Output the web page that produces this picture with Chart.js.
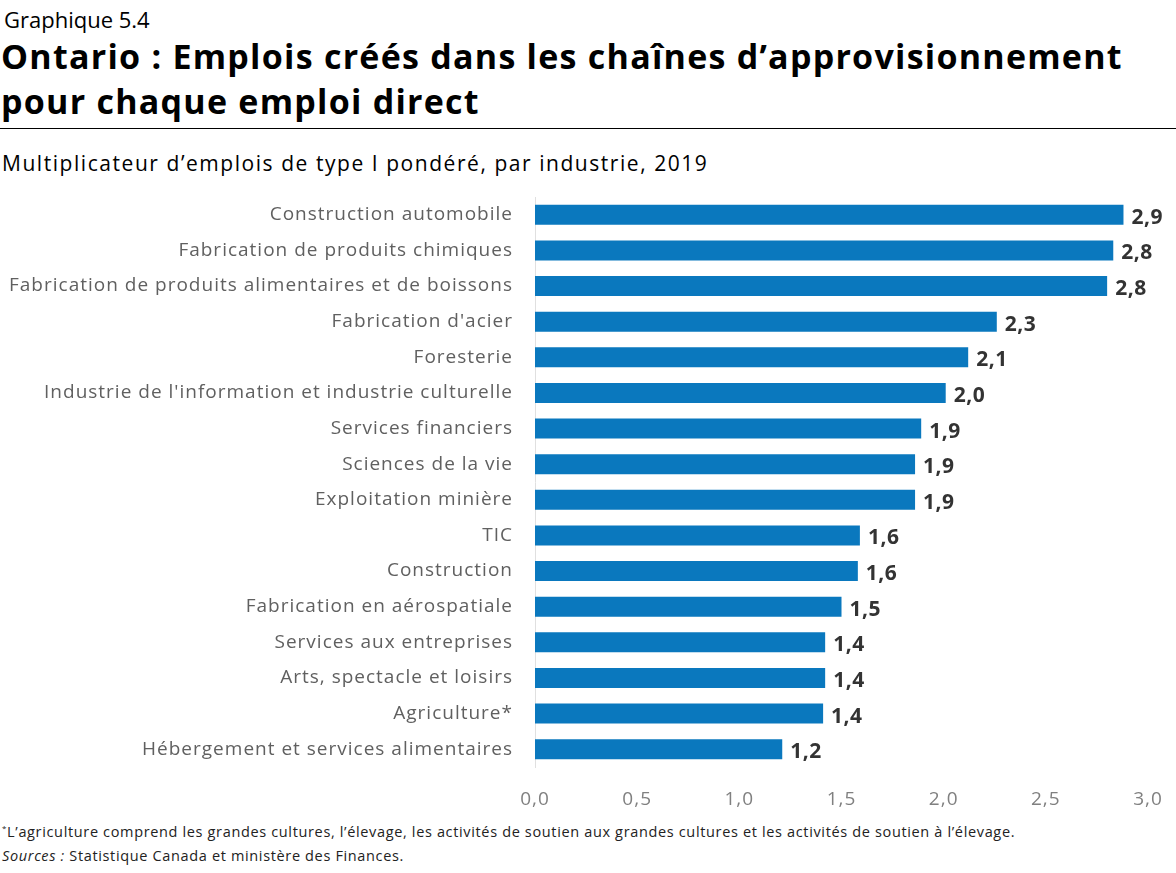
<!DOCTYPE html>
<html lang="fr">
<head>
<meta charset="utf-8">
<script src="https://cdn.jsdelivr.net/npm/chart.js@4.4.1/dist/chart.umd.min.js"></script>
<style>
  html, body { margin: 0; padding: 0; background: #fff; }
  body { width: 1176px; height: 873px; position: relative; overflow: hidden; font-family: "Open Sans", sans-serif; color: #000; }
  .num { position: absolute; left: 4px; top: 4px; font-size: 22px; }
  .title { position: absolute; left: 1px; top: 34px; font-size: 34px; font-weight: 700; line-height: 45px; letter-spacing: 1.25px; white-space: nowrap; }
  .rule { position: absolute; left: 0; top: 128px; width: 1176px; height: 1px; background: #000; }
  .sub { position: absolute; left: 2px; top: 149px; font-size: 21px; letter-spacing: 1.55px; white-space: nowrap; }
  .wrap { position: absolute; left: 0; top: 190px; width: 1176px; height: 625px; }
  .foot { position: absolute; left: 2px; font-size: 14.5px; letter-spacing: 0.65px; color: #222; white-space: nowrap; }
</style>
</head>
<body>
<div class="num">Graphique 5.4</div>
<div class="title">Ontario : Emplois créés dans les chaînes d’approvisionnement<br>pour chaque emploi direct</div>
<div class="rule"></div>
<div class="sub">Multiplicateur d’emplois de type I pondéré, par industrie, 2019</div>
<div class="wrap"><canvas id="chart"></canvas></div>
<div class="foot" style="top:822px"><sup style="font-size:8px">*</sup>L’agriculture comprend les grandes cultures, l’élevage, les activités de soutien aux grandes cultures et les activités de soutien à l’élevage.</div>
<div class="foot" style="top:846px"><i>Sources :</i> Statistique Canada et ministère des Finances.</div>
<script>
'use strict';

let industries = [
  'Construction automobile',
  'Fabrication de produits chimiques',
  'Fabrication de produits alimentaires et de boissons',
  "Fabrication d'acier",
  'Foresterie',
  "Industrie de l'information et industrie culturelle",
  'Services financiers',
  'Sciences de la vie',
  'Exploitation minière',
  'TIC',
  'Construction',
  'Fabrication en aérospatiale',
  'Services aux entreprises',
  'Arts, spectacle et loisirs',
  'Agriculture*',
  'Hébergement et services alimentaires'
];
let multipliers = [2.88, 2.83, 2.80, 2.26, 2.12, 2.01, 1.89, 1.86, 1.86, 1.59, 1.58, 1.50, 1.42, 1.42, 1.41, 1.21];
let xTicks = [0, 0.5, 1, 1.5, 2, 2.5, 3];

function frNum(v) {
  return v.toFixed(1).replace('.', ',');
}

// wider spacing to get closer to the original typeface
let spacing = {
  id: 'spacing',
  beforeDraw(chart) { chart.ctx.letterSpacing = '1px'; }
};

let valueLabels = {
  id: 'valueLabels',
  afterDatasetsDraw(chart) {
    let ctx = chart.ctx;
    let meta = chart.getDatasetMeta(0);
    ctx.save();
    ctx.letterSpacing = '0.5px';
    ctx.font = '700 21px "Open Sans", sans-serif';
    ctx.fillStyle = '#333';
    ctx.textAlign = 'left';
    ctx.textBaseline = 'middle';
    meta.data.forEach(function (bar, i) {
      ctx.fillText(frNum(multipliers[i]), bar.x + 8, bar.y + 3);
    });
    ctx.restore();
  }
};

let canvasElem = document.getElementById('chart');
new Chart(canvasElem, {
  type: 'bar',
  data: {
    labels: industries,
    datasets: [{
      data: multipliers,
      backgroundColor: '#0a78be',
      categoryPercentage: 0.56,
      barPercentage: 1
    }]
  },
  options: {
    indexAxis: 'y',
    responsive: true,
    maintainAspectRatio: false,
    animation: false,
    layout: { padding: { top: 7, right: 28, left: 0, bottom: 0 } },
    plugins: { legend: { display: false }, tooltip: { enabled: false } },
    scales: {
      x: {
        min: 0,
        max: 3,
        afterBuildTicks(scale) {
          scale.ticks = xTicks.map(function (v) { return { value: v }; });
        },
        afterFit(scale) {
          scale.height = 48;
          scale.paddingLeft = 0;
          scale.paddingRight = 0;
        },
        grid: { display: false, drawTicks: false },
        border: { display: false },
        ticks: {
          padding: 21,
          color: '#808080',
          font: { family: '"Open Sans", sans-serif', size: 19 },
          callback: function (v) { return frNum(v); }
        }
      },
      y: {
        afterFit(scale) {
          scale.width = 535;
          scale.paddingTop = 0;
          scale.paddingBottom = 0;
        },
        grid: { display: false, drawTicks: false },
        border: { display: true, color: '#e0e0e0', width: 1 },
        ticks: {
          padding: 22,
          color: '#606060',
          font: { family: '"Open Sans", sans-serif', size: 19 }
        }
      }
    }
  },
  plugins: [spacing, valueLabels]
});
</script>
</body>
</html>
